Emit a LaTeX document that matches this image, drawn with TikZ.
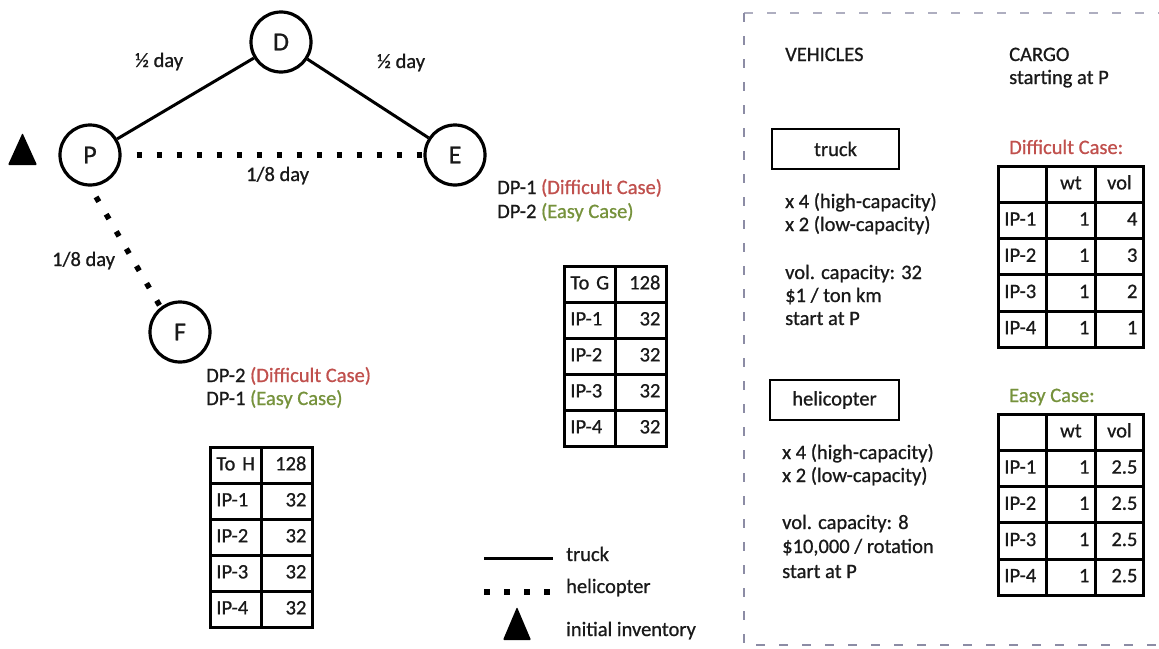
\documentclass[tikz,border=0pt]{standalone}
\usepackage{fontspec}
\setmainfont{Carlito}[FakeBold=0.8]
\definecolor{diffred}{RGB}{192,80,77}
\definecolor{easygreen}{RGB}{118,146,60}
\definecolor{framegray}{RGB}{140,140,165}
\definecolor{inkgray}{RGB}{25,25,25}

\begin{document}
\begin{tikzpicture}[x=1pt,y=-1pt,
  every node/.style={font=\fontsize{20.5}{24}\selectfont, inner sep=0pt, text=inkgray},
  txt/.style={anchor=west, text height=14pt, text depth=4pt},
  city/.style={circle, draw, line width=3.2pt, minimum size=60pt, font=\fontsize{26}{30}\selectfont},
  truckline/.style={line width=3pt},
  heliline/.style={line width=5.5pt, dash pattern=on 5.5pt off 14.5pt},
  vbox/.style={draw, line width=2.6pt, minimum height=40pt},
  cell/.style={draw, line width=2.8pt, anchor=north west, minimum height=36pt,
               inner xsep=6pt, text height=14pt, text depth=4pt},
  inventory/.style={fill=black, rounded corners=1pt}
]
\useasboundingbox (0,0) rectangle (1159,648);

% ---------- network ----------
\node[city] (D) at (281,42) {D};
\node[city] (P) at (90,155) {P};
\node[city] (E) at (455,155) {E};
\node[city] (F) at (180,332) {F};

\draw[truckline] (P) -- (D);
\draw[truckline] (D) -- (E);
\draw[heliline, shorten <=15pt] (P) -- (E);
\draw[heliline, shorten <=12pt] (P.south) -- (F.128);

\node[txt] (lPD) at (135,62) {½ day};
\node[txt] (lDE) at (377,63) {½ day};
\node[txt] (lPE) at (246,176) {1/8 day};
\node[txt] (lPF) at (52,261) {1/8 day};

% initial inventory at P
\fill[inventory] (8,165) -- (37,165) -- (22.5,133) -- cycle;

% demand points
\node[txt] (dE1) at (497,189) {DP-1 \textcolor{diffred}{(Difficult Case)}};
\node[txt] (dE2) at (497,213) {DP-2 \textcolor{easygreen}{(Easy Case)}};
\node[txt] (dF1) at (206,377) {DP-2 \textcolor{diffred}{(Difficult Case)}};
\node[txt] (dF2) at (206,400) {DP-1 \textcolor{easygreen}{(Easy Case)}};

% ---------- demand tables ----------
\foreach \lab/\val [count=\i from 0] in {To G/128,IP-1/32,IP-2/32,IP-3/32,IP-4/32}{
  \node[cell, text width=39pt, align=left]  (G\i-a) at (563,265+36*\i) {\lab};
  \node[cell, text width=39pt, align=right] (G\i-b) at (614,265+36*\i) {\val};
}
\foreach \lab/\val [count=\i from 0] in {To H/128,IP-1/32,IP-2/32,IP-3/32,IP-4/32}{
  \node[cell, text width=39pt, align=left]  (H\i-a) at (209,446+36*\i) {\lab};
  \node[cell, text width=39pt, align=right] (H\i-b) at (260,446+36*\i) {\val};
}

% ---------- legend ----------
\coordinate (lt1) at (484,558);
\coordinate (lt2) at (553,558);
\coordinate (lh1) at (484,592);
\coordinate (lh2) at (550,592);
\draw[truckline] (lt1) -- (lt2);
\draw[heliline] (lh1) -- (lh2);
\fill[inventory] (503,640) -- (531,640) -- (517,607) -- cycle;
\node[txt] (legT) at (566,556) {truck};
\node[txt] (legH) at (566,588) {helicopter};
\node[txt] (legI) at (566,631) {initial inventory};

% ---------- vehicles and cargo panel ----------
\draw[framegray!70, line width=1.5pt, dash pattern=on 9pt off 14pt] (744,13) -- (1159,13);
\draw[framegray, line width=2pt, dash pattern=on 9pt off 14pt] (744,13) -- (744,645) -- (1159,645);

\node[txt] (veh) at (785,56) {VEHICLES};
\node[txt] (cargo) at (1009,56) {CARGO};
\node[txt] (cargo2) at (1009,79) {starting at P};

\node[vbox, minimum width=127pt] (truck) at (835.5,149) {truck};
\node[txt] (t1) at (785,203) {x 4 (high-capacity)};
\node[txt] (t2) at (785,226) {x 2 (low-capacity)};
\node[txt] (t3) at (785,274) {vol. capacity: 32};
\node[txt] (t4) at (785,297) {\$1 / ton km};
\node[txt] (t5) at (785,320) {start at P};

\node[vbox, minimum width=129pt] (heli) at (834.5,400) {helicopter};
\node[txt] (h1) at (782,454) {x 4 (high-capacity)};
\node[txt] (h2) at (782,477) {x 2 (low-capacity)};
\node[txt] (h3) at (782,524) {vol. capacity: 8};
\node[txt] (h4) at (782,548) {\$10,000 / rotation};
\node[txt] (h5) at (782,573) {start at P};

\node[txt, text=diffred] (dcase) at (1009,149) {Difficult Case:};
\node[cell, text width=36pt] (dc0-a) at (997,165) {};
\node[cell, text width=37pt, align=center] (dc0-b) at (1045,165) {wt};
\node[cell, text width=36pt, align=center] (dc0-c) at (1094,165) {vol};
\foreach \lab/\w/\v [count=\i from 1] in {IP-1/1/4,IP-2/1/3,IP-3/1/2,IP-4/1/1}{
  \node[cell, text width=36pt, align=left]  (dc\i-a) at (997,165+36.2*\i) {\lab};
  \node[cell, text width=37pt, align=right] (dc\i-b) at (1045,165+36.2*\i) {\w};
  \node[cell, text width=36pt, align=right] (dc\i-c) at (1094,165+36.2*\i) {\v};
}

\node[txt, text=easygreen] (ecase) at (1009,397) {Easy Case:};
\node[cell, text width=36pt] (ec0-a) at (997,413) {};
\node[cell, text width=37pt, align=center] (ec0-b) at (1045,413) {wt};
\node[cell, text width=36pt, align=center] (ec0-c) at (1094,413) {vol};
\foreach \lab/\w/\v [count=\i from 1] in {IP-1/1/2.5,IP-2/1/2.5,IP-3/1/2.5,IP-4/1/2.5}{
  \node[cell, text width=36pt, align=left]  (ec\i-a) at (997,413+36.2*\i) {\lab};
  \node[cell, text width=37pt, align=right] (ec\i-b) at (1045,413+36.2*\i) {\w};
  \node[cell, text width=36pt, align=right] (ec\i-c) at (1094,413+36.2*\i) {\v};
}
\end{tikzpicture}
\end{document}
